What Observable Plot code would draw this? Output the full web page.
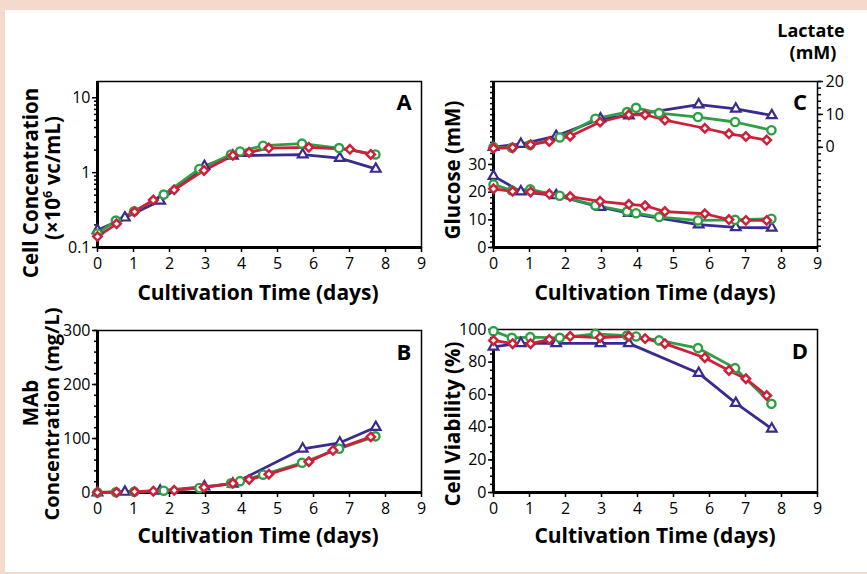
<!DOCTYPE html>
<html><head><meta charset="utf-8">
<script src="https://cdn.jsdelivr.net/npm/d3@7"></script>
<script src="https://cdn.jsdelivr.net/npm/@observablehq/plot@0.6"></script>
<style>
html,body{margin:0;padding:0;}
body{width:867px;height:574px;background:#f3dacd;position:relative;overflow:hidden;font-family:"Open Sans",sans-serif;}
#card{position:absolute;left:5px;top:10px;width:862px;height:562px;background:#fff;}
#root{position:absolute;left:0;top:0;width:867px;height:574px;}
.lbl{position:absolute;white-space:nowrap;transform:translate(-50%,-50%);font-weight:700;color:#000;line-height:1;}
.rot{transform:translate(-50%,-50%) rotate(-90deg);}
</style>
</head><body>
<div id="card"></div>
<div id="root"></div>
<script>
// ---------- data ----------
const xTicks = [0,1,2,3,4,5,6,7,8,9];

// Blue series (triangles)
const blueDays      = [0, 0.76, 1.74, 2.97, 3.76, 5.70, 6.73, 7.73];
const blueCells     = [0.17, 0.25, 0.42, 1.22, 1.68, 1.74, 1.56, 1.12];
const blueMAb       = [0, 1, 3, 11, 16, 81, 92, 121];
const blueGlucose   = [25.8, 20.2, 18.8, 14.6, 12.4, 8.3, 7.3, 7.1];
const blueLactate   = [0.1, 1.0, 3.4, 8.7, 9.6, 13.0, 11.7, 9.7];
const blueViability = [89.4, 91.5, 91.5, 91.5, 91.5, 73.2, 54.8, 39.1];

// Green series (circles)
const greenDays      = [0, 0.51, 1.02, 1.84, 2.83, 3.71, 3.96, 4.60, 5.68, 6.71, 7.72];
const greenCells     = [0.154, 0.229, 0.305, 0.51, 1.12, 1.75, 1.92, 2.29, 2.44, 2.13, 1.75];
const greenMAb       = [0, 0.5, 1.5, 3.3, 8.3, 17, 21, 33, 55, 81, 104];
const greenGlucose   = [22.8, 20.6, 21.0, 18.7, 15.2, 13.0, 12.4, 11.0, 9.8, 10.0, 10.4];
const greenLactate   = [0, -0.1, 0.7, 3.0, 8.7, 10.7, 12.0, 10.4, 9.2, 7.7, 5.2];
const greenViability = [99.0, 94.9, 95.3, 94.9, 97.3, 96.3, 95.7, 93.3, 88.6, 76.3, 54.4];

// Red series (diamonds)
const redDays      = [0, 0.53, 1.03, 1.55, 2.13, 2.96, 3.76, 4.21, 4.76, 5.87, 6.54, 7.01, 7.59];
const redCells     = [0.14, 0.207, 0.30, 0.43, 0.59, 1.07, 1.70, 1.87, 2.13, 2.18, null, 2.05, 1.75];
const redMAb       = [0, 0.5, 1.5, 2.5, 4, 9.5, 17, 24, 34, 57, 78, null, 103];
const redGlucose   = [21.2, 20.3, 20.1, 19.3, 18.4, 16.7, 15.6, 15.1, 13.0, 12.2, 10.1, 9.8, 9.8];
const redLactate   = [-0.3, -0.1, 0.8, 1.8, 3.4, 7.7, 9.9, 9.9, 8.3, 5.8, 4.1, 3.3, 2.2];
const redViability = [93.3, 91.3, 91.3, 93.8, 95.8, 95.1, 95.8, 94.4, 91.3, 82.7, 74.9, 69.8, 59.5];

// tick labels
const cellTicks = [0.1, 1, 10];
const mabTicks = [0, 100, 200, 300];
const glucoseTicks = [0, 10, 20, 30];
const lactateTicks = [0, 10, 20];
const viabilityTicks = [0, 20, 40, 60, 80, 100];

// ---------- helpers ----------
const BLUE = "#3b2b8f", GREEN = "#2f9f45", RED = "#cf1f3a";
const root = document.getElementById("root");
const rows = (days, vals, f = v => v) => days.map((d, i) => ({d, v: vals[i] == null ? null : f(vals[i])})).filter(r => r.v != null);

function seriesMarks(b, g, r) {
  return [
    Plot.line(b, {x: "d", y: "v", stroke: BLUE, strokeWidth: 2.8}),
    Plot.line(g, {x: "d", y: "v", stroke: GREEN, strokeWidth: 2.8}),
    Plot.line(r, {x: "d", y: "v", stroke: RED, strokeWidth: 2.8}),
    Plot.dot(b, {x: "d", y: "v", symbol: "triangle2", r: 4.6, stroke: BLUE, fill: "white", strokeWidth: 2.2}),
    Plot.dot(g, {x: "d", y: "v", symbol: "circle", r: 4.1, stroke: GREEN, fill: "white", strokeWidth: 2.4}),
    Plot.dot(r, {x: "d", y: "v", symbol: "diamond2", r: 3.8, stroke: RED, fill: "white", strokeWidth: 2.5})
  ];
}

function frameMarks(ymin) {
  return [
    Plot.frame({stroke: "#000", strokeWidth: 1.5}),
    Plot.ruleX([0], {stroke: "#000", strokeWidth: 3}),
    Plot.ruleY([ymin], {stroke: "#000", strokeWidth: 3}),
    Plot.axisX({ticks: xTicks, tickSize: 5, tickPadding: 5, tickFormat: d => String(d), label: null, strokeWidth: 1.5})
  ];
}

function yAxes(major, minor, fmt) {
  return [
    Plot.axisY({ticks: minor, tickSize: 3, tickFormat: () => "", label: null, strokeWidth: 1.5}),
    Plot.axisY({ticks: major, tickSize: 5, tickPadding: 2, tickFormat: fmt || (d => String(d)), label: null, strokeWidth: 1.5})
  ];
}

function panel({sx, sy, sw, sh, frame: [fl, ft, fr, fb], y, marks}) {
  const svg = Plot.plot({
    width: sw, height: sh,
    marginLeft: fl - sx, marginTop: ft - sy, marginRight: sx + sw - fr, marginBottom: sy + sh - fb,
    x: {domain: [0, 9]},
    y,
    style: {fontFamily: '"Open Sans", sans-serif', fontSize: "16px", color: "#000", background: "transparent", overflow: "visible"},
    marks
  });
  svg.style.position = "absolute";
  svg.style.left = sx + "px";
  svg.style.top = sy + "px";
  root.appendChild(svg);
}

// ---------- Panel A ----------
const cellMinor = [0.2,0.3,0.4,0.5,0.6,0.7,0.8,0.9,2,3,4,5,6,7,8,9];
panel({sx: 55, sy: 66, sw: 385, sh: 220, frame: [97, 81, 421, 247],
  y: {type: "log", domain: [0.1, 16.5]},
  marks: [
    ...frameMarks(0.1),
    ...yAxes(cellTicks, cellMinor, d => String(d)),
    ...seriesMarks(rows(blueDays, blueCells), rows(greenDays, greenCells), rows(redDays, redCells))
  ]});

// ---------- Panel B ----------
panel({sx: 55, sy: 315, sw: 385, sh: 220, frame: [97, 330, 421, 492],
  y: {domain: [0, 300]},
  marks: [
    ...frameMarks(0),
    ...yAxes(mabTicks, d3.range(0, 301, 20)),
    ...seriesMarks(rows(blueDays, blueMAb), rows(greenDays, greenMAb), rows(redDays, redMAb))
  ]});

// ---------- Panel C (glucose left, lactate right) ----------
const lacZero = 36.2, lacScale = (60 - 36.2) / 20;
const lacToG = L => lacZero + L * lacScale;
panel({sx: 451, sy: 66, sw: 405, sh: 220, frame: [493, 81, 817, 247],
  y: {domain: [0, 60]},
  marks: [
    ...frameMarks(0),
    ...yAxes(glucoseTicks, d3.range(0, 61, 2)),
    Plot.axisY({anchor: "right", ticks: d3.range(-30, 21, 2).map(lacToG).filter(v => v >= 0 && v <= 60), tickSize: 3, tickFormat: () => "", label: null, strokeWidth: 1.5}),
    Plot.axisY({anchor: "right", ticks: lactateTicks.map(lacToG), tickSize: 5, tickPadding: 3, tickFormat: d => String(Math.round((d - lacZero) / lacScale)), label: null, strokeWidth: 1.5}),
    ...seriesMarks(rows(blueDays, blueGlucose), rows(greenDays, greenGlucose), rows(redDays, redGlucose)),
    ...seriesMarks(rows(blueDays, blueLactate, lacToG), rows(greenDays, greenLactate, lacToG), rows(redDays, redLactate, lacToG))
  ]});

// ---------- Panel D ----------
panel({sx: 451, sy: 315, sw: 405, sh: 220, frame: [493, 329, 817, 492],
  y: {domain: [0, 100]},
  marks: [
    ...frameMarks(0),
    ...yAxes(viabilityTicks, d3.range(0, 101, 5)),
    ...seriesMarks(rows(blueDays, blueViability), rows(greenDays, greenViability), rows(redDays, redViability))
  ]});

// ---------- text labels ----------
const labels = [
  {t: "Cell Concentration", x: 30, y: 183, s: 20.5, r: true},
  {t: "(×10<span style='font-size:0.62em;vertical-align:0.62em'>6</span> vc/mL)", x: 52, y: 178, s: 20.5, r: true},
  {t: "MAb", x: 30, y: 403, s: 20.5, r: true},
  {t: "Concentration (mg/L)", x: 52, y: 414, s: 20, r: true},
  {t: "Glucose (mM)", x: 452, y: 170, s: 20.5, r: true},
  {t: "Cell Viability (%)", x: 452, y: 424, s: 20.5, r: true},
  {t: "Cultivation Time (days)", x: 258, y: 292, s: 21},
  {t: "Cultivation Time (days)", x: 258, y: 535, s: 21},
  {t: "Cultivation Time (days)", x: 655, y: 292, s: 21},
  {t: "Cultivation Time (days)", x: 655, y: 535, s: 21},
  {t: "Lactate", x: 811, y: 30, s: 18},
  {t: "(mM)", x: 813, y: 52, s: 18},
  {t: "A", x: 404, y: 101, s: 22},
  {t: "B", x: 404, y: 351, s: 22},
  {t: "C", x: 800, y: 101, s: 22},
  {t: "D", x: 800, y: 350, s: 22}
];
for (const l of labels) {
  const div = document.createElement("div");
  div.className = "lbl" + (l.r ? " rot" : "");
  div.innerHTML = l.t;
  div.style.left = l.x + "px";
  div.style.top = l.y + "px";
  div.style.fontSize = l.s + "px";
  root.appendChild(div);
}
</script>
</body></html>
